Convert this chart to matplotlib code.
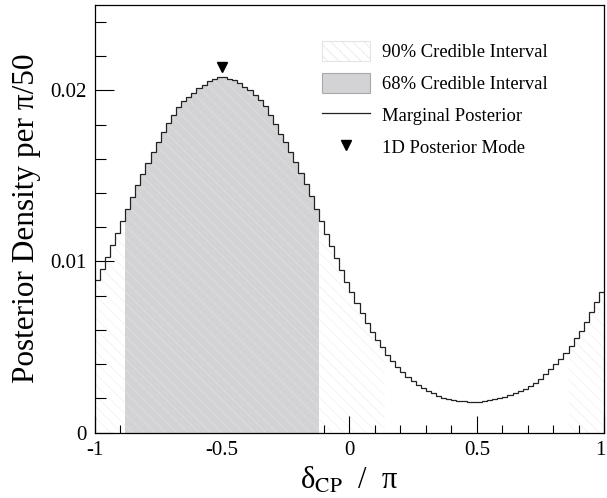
import numpy as np
import matplotlib
matplotlib.use("Agg")
import matplotlib.pyplot as plt
import matplotlib.transforms as mtransforms
from matplotlib.patches import Patch
from matplotlib.lines import Line2D
from matplotlib.ticker import MultipleLocator, FixedLocator

plt.rcParams['font.family'] = ['Liberation Serif', 'DejaVu Serif']
plt.rcParams['mathtext.fontset'] = 'stix'
plt.rcParams['hatch.linewidth'] = 0.5

# bin edges: 100 bins of width pi/50 over [-pi, pi] (in units of pi)
edges = np.linspace(-1, 1, 101)

density = [
    0.00889, 0.00956, 0.01026, 0.01096, 0.01167, 0.01235, 0.01307, 0.01375, 0.01445, 0.01512,
    0.01578, 0.01641, 0.01701, 0.01756, 0.01808, 0.01855, 0.01902, 0.01940, 0.01963, 0.01988,
    0.02013, 0.02035, 0.02054, 0.02070, 0.02080, 0.02080, 0.02070, 0.02059, 0.02041, 0.02022,
    0.02000, 0.01975, 0.01946, 0.01909, 0.01859, 0.01805, 0.01748, 0.01700, 0.01639, 0.01580,
    0.01518, 0.01454, 0.01381, 0.01309, 0.01235, 0.01163, 0.01088, 0.01020, 0.00952, 0.00883,
    0.00820, 0.00757, 0.00698, 0.00643, 0.00590, 0.00542, 0.00499, 0.00454, 0.00420, 0.00385,
    0.00356, 0.00327, 0.00302, 0.00278, 0.00259, 0.00245, 0.00230, 0.00214, 0.00204, 0.00196,
    0.00190, 0.00186, 0.00183, 0.00179, 0.00179, 0.00179, 0.00184, 0.00189, 0.00194, 0.00200,
    0.00210, 0.00220, 0.00230, 0.00243, 0.00257, 0.00272, 0.00292, 0.00315, 0.00341, 0.00370,
    0.00399, 0.00430, 0.00467, 0.00507, 0.00552, 0.00596, 0.00649, 0.00707, 0.00763, 0.00819,
]

# credible intervals (in units of pi)
ci90_ranges = [(-1.0, 0.14), (0.86, 1.0)]
ci68_ranges = [(-0.88, -0.12)]
mode_x = -0.5
mode_y = 0.02135

x_ticks = [-1, -0.5, 0, 0.5, 1]
x_ticklabels = ["-1", "-0.5", "0", "0.5", "1"]
y_ticks = [0, 0.01, 0.02]
y_ticklabels = ["0", "0.01", "0.02"]

density = np.array(density)

fig = plt.figure(figsize=(6.07, 4.98), dpi=100)
ax = fig.add_axes([0.1557, 0.1315, 0.8398, 0.8585])

def band(lo, hi, **kw):
    mask = (edges[:-1] >= lo - 1e-9) & (edges[1:] <= hi + 1e-9)
    idx = np.where(mask)[0]
    e = edges[idx[0]:idx[-1] + 2]
    v = density[idx]
    ax.stairs(v, e, fill=True, baseline=0, **kw)

for lo, hi in ci90_ranges:
    band(lo, hi, facecolor='white', edgecolor='#f0f0f0', hatch='\\\\\\', linewidth=0, zorder=1)
for lo, hi in ci68_ranges:
    band(lo, hi, facecolor='#d3d3d6', edgecolor='#e0e0e2', hatch='\\\\\\', linewidth=0, zorder=2)

ax.stairs(density, edges, baseline=None, color='#222222', linewidth=0.9, zorder=3)
ax.plot([mode_x], [mode_y], marker='v', color='black', markersize=7, linestyle='none', zorder=4)

ax.set_xlim(-1, 1)
ax.set_ylim(0, 0.025)
ax.xaxis.set_major_locator(FixedLocator(x_ticks))
ax.set_xticklabels(x_ticklabels)
ax.yaxis.set_major_locator(FixedLocator(y_ticks))
ax.set_yticklabels(y_ticklabels)
ax.xaxis.set_minor_locator(MultipleLocator(0.1))
ax.yaxis.set_minor_locator(MultipleLocator(0.002))
ax.tick_params(which='both', direction='in', top=False, right=False, labelsize=15, width=0.8)
ax.tick_params(which='major', axis='x', length=12, pad=6)
ax.tick_params(which='minor', axis='x', length=6)
ax.tick_params(which='major', axis='y', length=14, pad=6)
ax.tick_params(which='minor', axis='y', length=8)
for s in ax.spines.values():
    s.set_linewidth(0.9)
    s.set_zorder(5)

# nudge the last x tick label so it stays inside the figure
last = ax.get_xticklabels()[-1]
last.set_transform(last.get_transform() + mtransforms.ScaledTranslation(-3.5 / 100, 0, fig.dpi_scale_trans))

ax.set_ylabel("Posterior Density per π/50", fontsize=22.5, labelpad=6)
ax.set_xlabel("δ$_{\\mathrm{CP}}$  /  π", fontsize=22, labelpad=4)

handles = [
    Patch(facecolor='white', edgecolor='#e4e4e4', hatch='\\\\\\', linewidth=0.8, label='90% Credible Interval'),
    Patch(facecolor='#d3d3d6', edgecolor='#a8a8a8', linewidth=0.8, label='68% Credible Interval'),
    Line2D([], [], color='#222222', linewidth=0.9, label='Marginal Posterior'),
    Line2D([], [], color='black', marker='v', markersize=7, linestyle='none', label='1D Posterior Mode'),
]
ax.legend(handles=handles, loc='upper left', bbox_to_anchor=(0.4316, 0.933), frameon=False,
          fontsize=13.4, handlelength=2.6, handleheight=1.24, handletextpad=0.6, labelspacing=0.64,
          borderaxespad=0)

fig.savefig("out.png", dpi=100)
